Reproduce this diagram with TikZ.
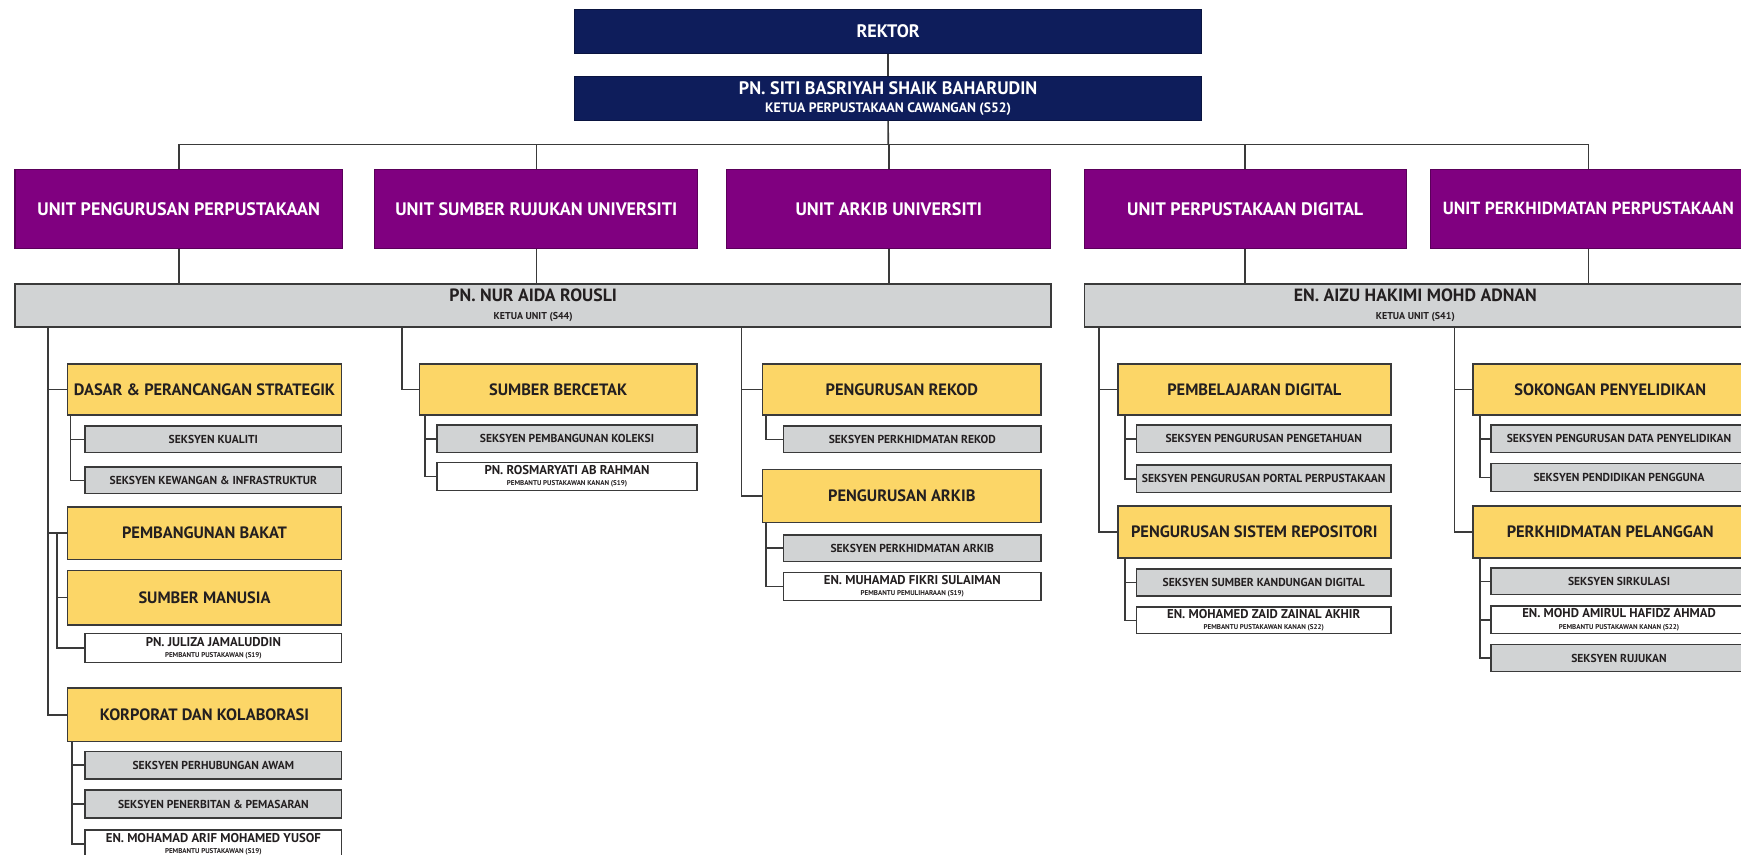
\documentclass[tikz,border=0pt]{standalone}
\usepackage{fontspec}
\setmainfont{PT Sans}
\definecolor{navy}{HTML}{0E1D5B}
\definecolor{purp}{HTML}{800080}
\definecolor{yel}{HTML}{FCD667}
\definecolor{lgray}{HTML}{D1D3D4}
\definecolor{edge}{HTML}{3A3A3A}
\definecolor{txt}{HTML}{231F20}
\newcommand{\fsz}[1]{\fontsize{#1}{#1}\selectfont}
\newcommand{\subt}{\fsz{6.3}}
\begin{document}
\begin{tikzpicture}[x=1pt,y={(0pt,-1pt)},
  base/.style={anchor=north west, inner sep=0pt, align=center, font=\bfseries},
  navybox/.style={base, fill=navy, draw=navy!70!black, line width=0.8pt, text=white, font=\bfseries\fsz{16.3}},
  purpbox/.style={base, fill=purp, draw=purp!70!black, line width=1pt, text=white, font=\bfseries\fsz{16.3}, minimum height=71pt},
  unitbox/.style={base, fill=lgray, draw=edge, line width=1.4pt, text=txt, font=\bfseries\fsz{16}, minimum height=39pt},
  yelbox/.style={base, fill=yel, draw=edge, line width=1.4pt, text=txt, font=\bfseries\fsz{14.8}},
  secbox/.style={base, fill=lgray, draw=edge, line width=1.3pt, text=txt, font=\bfseries\fsz{10.4}},
  namebox/.style={base, fill=white, draw=edge, line width=1.3pt, text=txt, font=\bfseries\fsz{11.5}},
  conn/.style={draw=edge, line width=1.4pt}
]
\useasboundingbox (0,0) rectangle (1568,770);
\clip (0,0) rectangle (1568,770);
\fill[white] (0,0) rectangle (1568,770);

% top
\node[navybox, minimum width=565pt, minimum height=40pt] (rektor) at (517,8) {REKTOR};
\node[navybox, minimum width=565pt, minimum height=40pt] (siti) at (517,68) {PN. SITI BASRIYAH SHAIK BAHARUDIN\\[0pt]{\fsz{12.3}KETUA PERPUSTAKAAN CAWANGAN (S52)}};

% units
\node[purpbox, minimum width=295pt] (p1) at (13,152) {UNIT PENGURUSAN PERPUSTAKAAN};
\node[purpbox, minimum width=291pt] (p2) at (337,152) {UNIT SUMBER RUJUKAN UNIVERSITI};
\node[purpbox, minimum width=292pt] (p3) at (654,152) {UNIT ARKIB UNIVERSITI};
\node[purpbox, minimum width=290pt] (p4) at (976,152) {UNIT PERPUSTAKAAN DIGITAL};
\node[purpbox, minimum width=284pt, font=\bfseries\fsz{15.8}] (p5) at (1288,152) {UNIT PERKHIDMATAN PERPUSTAKAAN};

% heads
\node[unitbox, minimum width=933pt] (g1) at (13,255) {PN. NUR AIDA ROUSLI\\[0pt]{\fsz{9}KETUA UNIT (S44)}};
\node[unitbox, minimum width=596pt] (g2) at (976,255) {EN. AIZU HAKIMI MOHD ADNAN\\[0pt]{\fsz{9}KETUA UNIT (S41)}};

% column 1
\node[yelbox, minimum width=247pt, minimum height=46pt] (y11) at (60,327) {DASAR \& PERANCANGAN STRATEGIK};
\node[secbox, minimum width=231pt, minimum height=24pt] (s11) at (76,383) {SEKSYEN KUALITI};
\node[secbox, minimum width=231pt, minimum height=24pt] (s12) at (76,420) {SEKSYEN KEWANGAN \& INFRASTRUKTUR};
\node[yelbox, minimum width=247pt, minimum height=47pt] (y12) at (60,456) {PEMBANGUNAN BAKAT};
\node[yelbox, minimum width=247pt, minimum height=49pt] (y13) at (60,513) {SUMBER MANUSIA};
\node[namebox, minimum width=231pt, minimum height=26pt] (n11) at (76,570) {PN. JULIZA JAMALUDDIN\\[-1.5pt]{\subt PEMBANTU PUSTAKAWAN (S19)}};
\node[yelbox, minimum width=247pt, minimum height=48pt] (y14) at (60,619) {KORPORAT DAN KOLABORASI};
\node[secbox, minimum width=231pt, minimum height=25pt] (s13) at (76,676) {SEKSYEN PERHUBUNGAN AWAM};
\node[secbox, minimum width=231pt, minimum height=25pt] (s14) at (76,711) {SEKSYEN PENERBITAN \& PEMASARAN};
\node[namebox, minimum width=231pt, minimum height=25pt] (n12) at (76,747) {EN. MOHAMAD ARIF MOHAMED YUSOF\\[-1.5pt]{\subt PEMBANTU PUSTAKAWAN (S19)}};

% column 2
\node[yelbox, minimum width=250pt, minimum height=46pt] (y21) at (377,327) {SUMBER BERCETAK};
\node[secbox, minimum width=234pt, minimum height=25pt] (s21) at (393,382) {SEKSYEN PEMBANGUNAN KOLEKSI};
\node[namebox, minimum width=234pt, minimum height=25pt] (n21) at (393,416) {PN. ROSMARYATI AB RAHMAN\\[-1.5pt]{\subt PEMBANTU PUSTAKAWAN KANAN (S19)}};

% column 3
\node[yelbox, minimum width=251pt, minimum height=46pt] (y31) at (686,327) {PENGURUSAN REKOD};
\node[secbox, minimum width=232pt, minimum height=24pt] (s31) at (705,383) {SEKSYEN PERKHIDMATAN REKOD};
\node[yelbox, minimum width=251pt, minimum height=48pt] (y32) at (686,422) {PENGURUSAN ARKIB};
\node[secbox, minimum width=232pt, minimum height=24pt] (s32) at (705,481) {SEKSYEN PERKHIDMATAN ARKIB};
\node[namebox, minimum width=232pt, minimum height=25pt] (n31) at (705,515) {EN. MUHAMAD FIKRI SULAIMAN\\[-1.5pt]{\subt PEMBANTU PEMULIHARAAN (S19)}};

% column 4
\node[yelbox, minimum width=246pt, minimum height=46pt] (y41) at (1006,327) {PEMBELAJARAN DIGITAL};
\node[secbox, minimum width=229pt, minimum height=25pt] (s41) at (1023,382) {SEKSYEN PENGURUSAN PENGETAHUAN};
\node[secbox, minimum width=229pt, minimum height=25pt] (s42) at (1023,418) {SEKSYEN PENGURUSAN PORTAL PERPUSTAKAAN};
\node[yelbox, minimum width=246pt, minimum height=47pt] (y42) at (1006,455) {PENGURUSAN SISTEM REPOSITORI};
\node[secbox, minimum width=229pt, minimum height=24pt] (s43) at (1023,512) {SEKSYEN SUMBER KANDUNGAN DIGITAL};
\node[namebox, minimum width=229pt, minimum height=24pt] (n41) at (1023,546) {EN. MOHAMED ZAID ZAINAL AKHIR\\[-1.5pt]{\subt PEMBANTU PUSTAKAWAN KANAN (S22)}};

% column 5
\node[yelbox, minimum width=247pt, minimum height=46pt] (y51) at (1326,327) {SOKONGAN PENYELIDIKAN};
\node[secbox, minimum width=231pt, minimum height=25pt] (s51) at (1342,382) {SEKSYEN PENGURUSAN DATA PENYELIDIKAN};
\node[secbox, minimum width=231pt, minimum height=25pt] (s52) at (1342,417) {SEKSYEN PENDIDIKAN PENGGUNA};
\node[yelbox, minimum width=247pt, minimum height=47pt] (y52) at (1326,455) {PERKHIDMATAN PELANGGAN};
\node[secbox, minimum width=231pt, minimum height=24pt] (s53) at (1342,511) {SEKSYEN SIRKULASI};
\node[namebox, minimum width=231pt, minimum height=25pt] (n51) at (1342,545) {EN. MOHD AMIRUL HAFIDZ AHMAD\\[-1.5pt]{\subt PEMBANTU PUSTAKAWAN KANAN (S22)}};
\node[secbox, minimum width=231pt, minimum height=24pt] (s54) at (1342,580) {SEKSYEN RUJUKAN};

% connectors: top
\coordinate (bus) at (800,130);
\draw[conn] (rektor) -- (siti);
\draw[conn] (siti.south) -- (bus);
\foreach \p in {p1,p2,p3,p4,p5} \draw[conn] (\p.north) |- (bus);
\foreach \p in {p1,p2,p3} \draw[conn] (\p.south) -- (\p.south |- g1.north);
\foreach \p in {p4,p5} \draw[conn] (\p.south) -- (\p.south |- g2.north);

% trunks
\coordinate (t1) at (43,294);
\coordinate (t2) at (362,294);
\coordinate (t3) at (668,294);
\coordinate (t4) at (990,294);
\coordinate (t5) at (1310,294);

% column 1
\foreach \b in {y11,y12,y14} \draw[conn] (t1) |- (\b.west);
\coordinate (a12) at (51.5,480);
\foreach \b in {y13,n11} \draw[conn] (a12) |- (\b.west);
\foreach \b in {s11,s12} \draw[conn] ([xshift=3.5pt]y11.south west) |- (\b.west);
\foreach \b in {s13,s14,n12} \draw[conn] ([xshift=5pt]y14.south west) |- (\b.west);

% column 2
\draw[conn] (t2) |- (y21.west);
\foreach \b in {s21,n21} \draw[conn] ([xshift=6pt]y21.south west) |- (\b.west);

% column 3
\foreach \b in {y31,y32} \draw[conn] (t3) |- (\b.west);
\draw[conn] ([xshift=4pt]y31.south west) |- (s31.west);
\foreach \b in {s32,n31} \draw[conn] ([xshift=4pt]y32.south west) |- (\b.west);

% column 4
\foreach \b in {y41,y42} \draw[conn] (t4) |- (\b.west);
\foreach \b in {s41,s42} \draw[conn] ([xshift=7pt]y41.south west) |- (\b.west);
\foreach \b in {s43,n41} \draw[conn] ([xshift=7pt]y42.south west) |- (\b.west);

% column 5
\foreach \b in {y51,y52} \draw[conn] (t5) |- (\b.west);
\foreach \b in {s51,s52} \draw[conn] ([xshift=7pt]y51.south west) |- (\b.west);
\foreach \b in {s53,n51,s54} \draw[conn] ([xshift=7pt]y52.south west) |- (\b.west);
\end{tikzpicture}
\end{document}
